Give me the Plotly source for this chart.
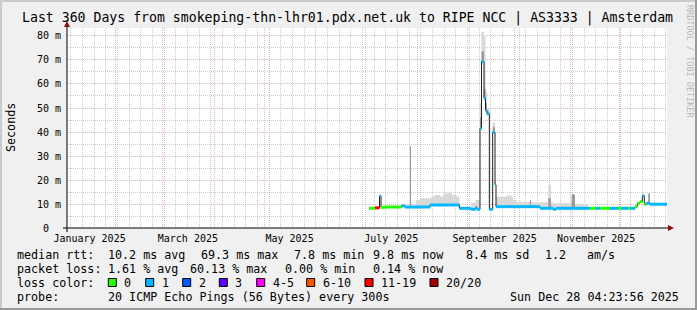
import pandas as pd
import plotly.graph_objects as go

# ---------------- data ----------------
# start of each consolidated step, in days since 2025-01-01 00:00
step_day = [183.0, 186.6, 189.3, 190.2, 192.6, 202.5, 204.6, 207.6, 208.2, 211.2,
            213.6, 219.6, 220.6, 222.6, 225.6, 227.6, 230.6, 232.6, 235.6, 237.3,
            244.2, 246.9, 247.8, 249.6, 250.5, 252.0, 252.9, 253.8, 255.2, 257.2,
            258.6, 259.2, 265.6, 268.6, 269.4, 271.6, 279.6, 280.2, 285.6, 290.6,
            292.2, 293.4, 295.2, 304.6, 306.6, 314.4, 315.6, 319.2, 321.6, 327.6,
            332.4, 334.2, 338.4, 339.6, 342.6, 344.0, 345.6, 347.0, 348.2, 349.4,
            350.6, 351.6]
end_day = 361.8
range_start_day = 1.8

median_ms = [8.2, 8.4, 13.3, 8.6, 8.75, 9.2, 8.75, 8.75, 8.75, 8.75,
             8.75, 9.6, 9.6, 9.6, 9.6, 9.6, 9.6, 9.6, 9.6, 8.2,
             7.8, 8.4, 7.8, 41.5, 69.3, 54.0, 49.0, 47.5, 7.8, 39.8,
             18.0, 8.9, 8.9, 8.9, 8.9, 8.9, 8.9, 8.9, 8.2, 8.2,
             8.2, 7.8, 8.2, 8.2, 8.2, 8.2, 8.2, 8.2, 8.2, 8.2,
             8.2, 8.2, 8.2, 8.2, 8.9, 10.3, 11.0, 13.4, 9.9, 10.3,
             10.3, 9.9]

# index into loss_labels
loss_level = [0, 6, 1, 0, 0, 1, 1, 1, 1, 1,
              1, 1, 1, 1, 1, 1, 1, 1, 1, 1,
              1, 1, 1, 1, 1, 1, 1, 1, 1, 1,
              1, 1, 1, 1, 1, 1, 1, 1, 1, 1,
              1, 1, 1, 1, 1, 1, 0, 1, 0, 1,
              0, 1, 0, 1, 0, 0, 0, 1, 0, 1,
              1, 1]

smoke_max_ms = [8.6, 8.8, 13.6, 9.0, 9.1, 9.6, 9.1, 34.0, 9.2, 11.7,
                12.4, 12.4, 13.3, 13.75, 13.2, 14.4, 14.7, 13.75, 13.0, 8.6,
                10.5, 11.7, 11.7, 52.0, 81.8, 80.0, 56.8, 50.0, 8.2, 44.0,
                20.0, 13.0, 13.5, 12.8, 11.7, 10.9, 11.7, 10.6, 10.7, 17.9,
                10.5, 10.3, 10.3, 14.0, 10.0, 8.5, 8.5, 8.5, 8.5, 8.5,
                8.5, 8.5, 8.5, 8.5, 9.2, 10.6, 11.3, 13.7, 10.2, 10.6,
                14.4, 10.3]

smoke_dark_ms = [8.2, 8.4, 13.3, 8.6, 8.75, 9.2, 8.75, 34.0, 8.75, 8.75,
                 8.75, 9.6, 9.6, 9.6, 9.6, 9.6, 9.6, 9.6, 9.6, 8.2,
                 7.8, 8.4, 7.8, 46.0, 73.5, 58.0, 52.0, 48.5, 7.8, 42.0,
                 18.0, 8.9, 8.9, 8.9, 8.9, 8.9, 11.7, 8.9, 8.2, 12.4,
                 8.2, 7.8, 8.2, 14.0, 8.2, 8.2, 8.2, 8.2, 8.2, 8.2,
                 8.2, 8.2, 8.2, 8.2, 8.9, 10.3, 11.0, 13.4, 9.9, 10.3,
                 14.4, 9.9]

loss_labels = ["0", "1", "2", "3", "4-5", "6-10", "11-19", "20/20"]
loss_colors = ["#26ff00", "#00b8ff", "#0059ff", "#5e00ff", "#ff00f5",
               "#ff5500", "#ff0000", "#a00000"]

month_label_dates = ["2025-01-16 08:00", "2025-03-16 08:00", "2025-05-16 08:00",
                     "2025-07-16 08:00", "2025-09-16 08:00", "2025-11-16 08:00"]
month_labels = ["January 2025", "March 2025", "May 2025",
                "July 2025", "September 2025", "November 2025"]

y_tick_vals = [0, 10, 20, 30, 40, 50, 60, 70, 80]
y_tick_text = ["0\u00a0\u00a0", "10 m", "20 m", "30 m", "40 m", "50 m", "60 m", "70 m", "80 m"]
y_minor_vals = [5, 15, 25, 35, 45, 55, 65, 75]
y_max = 83.33

title_text = "Last 360 Days from smokeping-thn-lhr01.pdx.net.uk to RIPE NCC | AS3333 | Amsterdam"
row_rtt = ["median rtt:", "10.2 ms avg", "69.3 ms max", "7.8 ms min", "9.8 ms now",
           "8.4 ms sd", "1.2", "am/s"]
row_loss = ["packet loss:", "1.61 % avg", "60.13 % max", "0.00 % min", "0.14 % now"]
probe_text = ["probe:", "20 ICMP Echo Pings (56 Bytes) every 300s"]
stamp_text = "Sun Dec 28 04:23:56 2025"

# ---------------- layout geometry (pixels) ----------------
W, H = 697, 310
L, R, T, B = 67, 667, 28, 228
FONT = "DejaVu Sans Mono"


def px(x):
    return (x - L) / (R - L)


def py(y):
    return (B - y) / (B - T)


base = pd.Timestamp("2025-01-01")


def day2str(d):
    return (base + pd.to_timedelta(d, unit="D")).strftime("%Y-%m-%d %H:%M:%S")


t_all = [day2str(d) for d in step_day] + [day2str(end_day)]
x_range = [day2str(range_start_day), day2str(end_day)]

med_ext = median_ms + [median_ms[-1]]
smax_ext = smoke_max_ms + [smoke_max_ms[-1]]
sdark_ext = smoke_dark_ms + [smoke_dark_ms[-1]]

fig = go.Figure()

# smoke (light band)
fig.add_trace(go.Scatter(x=t_all, y=med_ext, mode="lines", line=dict(width=0, shape="hv"),
                         showlegend=False, hoverinfo="skip"))
fig.add_trace(go.Scatter(x=t_all, y=smax_ext, mode="lines", line=dict(width=0, shape="hv"),
                         fill="tonexty", fillcolor="#d8d8d8", showlegend=False, hoverinfo="skip"))
# smoke (dark band)
fig.add_trace(go.Scatter(x=t_all, y=med_ext, mode="lines", line=dict(width=0, shape="hv"),
                         showlegend=False, hoverinfo="skip"))
fig.add_trace(go.Scatter(x=t_all, y=sdark_ext, mode="lines", line=dict(width=0, shape="hv"),
                         fill="tonexty", fillcolor="#9a9a9a", showlegend=False, hoverinfo="skip"))
# median thin dark line
fig.add_trace(go.Scatter(x=t_all, y=med_ext, mode="lines",
                         line=dict(width=1, color="#202020", shape="hv"),
                         showlegend=False, hoverinfo="skip"))
# loss-coloured median segments
for lvl, col in enumerate(loss_colors):
    xs, ys = [], []
    for i, lv in enumerate(loss_level):
        if lv == lvl:
            xs += [t_all[i], t_all[i + 1], None]
            ys += [median_ms[i], median_ms[i], None]
    if xs:
        fig.add_trace(go.Scatter(x=xs, y=ys, mode="lines", line=dict(width=3, color=col),
                                 showlegend=False, hoverinfo="skip"))
# empty trace that carries the month-label axis
fig.add_trace(go.Scatter(x=x_range, y=[None, None], xaxis="x2", yaxis="y", mode="lines",
                         line=dict(width=0), showlegend=False, hoverinfo="skip"))

major_grid = "rgba(222,80,80,0.42)"
minor_grid = "rgba(143,143,143,0.45)"
dash = "1px,1px"

fig.update_layout(
    width=W, height=H, autosize=False,
    margin=dict(l=L, r=W - R, t=T, b=H - B, pad=0),
    paper_bgcolor="#f0f0f0", plot_bgcolor="#ffffff",
    font=dict(family=FONT, color="#000000"),
    showlegend=False,
    xaxis=dict(type="date", range=x_range, tick0="2025-01-01", dtick="M1",
               showgrid=True, gridcolor=major_grid, griddash=dash, gridwidth=1,
               showticklabels=False, zeroline=False, showline=False, ticks="",
               minor=dict(tick0="2025-01-05", dtick=7 * 24 * 3600 * 1000, showgrid=True,
                          gridcolor=minor_grid, griddash=dash, gridwidth=1, ticks="")),
    xaxis2=dict(type="date", range=x_range, overlaying="x", anchor="y", side="bottom",
                tickmode="array", tickvals=month_label_dates, ticktext=month_labels,
                showgrid=False, zeroline=False, showline=False,
                ticks="outside", ticklen=1, tickcolor="rgba(0,0,0,0)",
                tickfont=dict(size=10, family=FONT)),
    yaxis=dict(range=[0, y_max], tickmode="array", tickvals=y_tick_vals, ticktext=y_tick_text,
               showgrid=True, gridcolor=major_grid, griddash=dash, gridwidth=1,
               zeroline=False, showline=False, ticks="outside", ticklen=3,
               tickcolor="rgba(0,0,0,0)", tickfont=dict(size=10, family=FONT),
               minor=dict(tickmode="array", tickvals=y_minor_vals, showgrid=True,
                          gridcolor=minor_grid, griddash=dash, gridwidth=1, ticks="")),
)

shapes = []
# border shading
shapes.append(dict(type="rect", xref="paper", yref="paper", x0=px(0), x1=px(W), y0=py(0), y1=py(2),
                   fillcolor="#cbcbcb", line=dict(width=0), layer="below"))
shapes.append(dict(type="rect", xref="paper", yref="paper", x0=px(0), x1=px(2), y0=py(0), y1=py(H),
                   fillcolor="#cbcbcb", line=dict(width=0), layer="below"))
shapes.append(dict(type="rect", xref="paper", yref="paper", x0=px(W - 2), x1=px(W), y0=py(0), y1=py(H),
                   fillcolor="#999999", line=dict(width=0), layer="below"))
shapes.append(dict(type="rect", xref="paper", yref="paper", x0=px(0), x1=px(W), y0=py(H - 2), y1=py(H),
                   fillcolor="#999999", line=dict(width=0), layer="below"))
# axes
shapes.append(dict(type="line", xref="paper", yref="paper", x0=px(63), x1=px(670), y0=py(228), y1=py(228),
                   line=dict(color="#000000", width=1)))
shapes.append(dict(type="line", xref="paper", yref="paper", x0=px(67), x1=px(67), y0=py(232), y1=py(25),
                   line=dict(color="#000000", width=1)))
# arrows
shapes.append(dict(type="path", xref="paper", yref="paper",
                   path=f"M {px(668)} {py(225)} L {px(674)} {py(228)} L {px(668)} {py(231)} Z",
                   fillcolor="#8b1010", line=dict(width=0)))
shapes.append(dict(type="path", xref="paper", yref="paper",
                   path=f"M {px(64)} {py(27)} L {px(67)} {py(21)} L {px(70)} {py(27)} Z",
                   fillcolor="#8b1010", line=dict(width=0)))

annotations = []


def txt(x, y, s, size=11.7, anchor="left", color="#000000", angle=0):
    annotations.append(dict(xref="paper", yref="paper", x=px(x), y=py(y), text=s, showarrow=False,
                            xanchor=anchor, yanchor="middle", borderpad=0, textangle=angle,
                            font=dict(family=FONT, size=size, color=color)))


txt(347, 18.5, title_text, size=13.2, anchor="center")
txt(11, 128, "Seconds", size=11.7, anchor="center", angle=-90)
txt(690, 61, "RRDTOOL / TOBI OETIKER", size=8.5, anchor="center", color="#b8b8b8", angle=90)

row1_x = [16, 107.3, 200, 293.3, 372.3, 465, 544, 586]
for xx, s in zip(row1_x, row_rtt):
    txt(xx, 254.5, s)
row2_x = [16, 107.3, 189, 284, 372.3]
for xx, s in zip(row2_x, row_loss):
    txt(xx, 269, s)
txt(16, 282.5, "loss color:")
box_x = [108.3, 145.7, 182.7, 219.3, 256.7, 306.7, 365, 430]
for bx, lab, col in zip(box_x, loss_labels, loss_colors):
    shapes.append(dict(type="rect", xref="paper", yref="paper", x0=px(bx), x1=px(bx + 8),
                       y0=py(278.5), y1=py(286.5), fillcolor=col, line=dict(color="#000000", width=1)))
    txt(bx + 15, 282.5, lab)
txt(16, 296.5, probe_text[0])
txt(107.3, 296.5, probe_text[1])
txt(680, 296.5, stamp_text, anchor="right")

fig.update_layout(shapes=shapes, annotations=annotations)
fig.write_html("out.html")
